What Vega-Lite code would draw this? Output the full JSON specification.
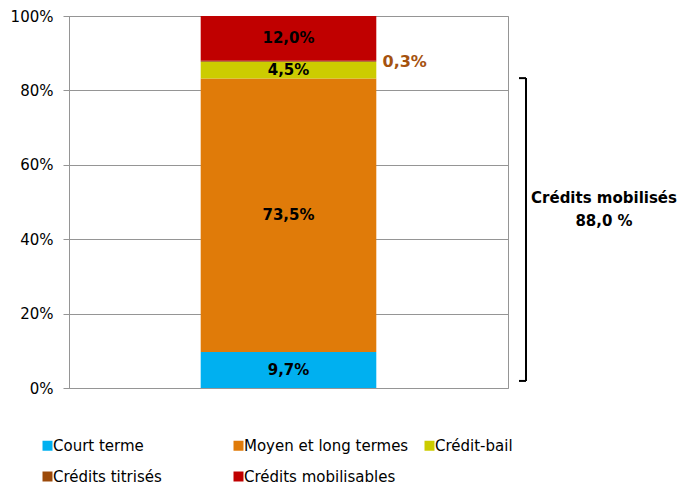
{
  "$schema": "https://vega.github.io/schema/vega-lite/v6.json",
  "padding": {"left": 9, "top": 8, "right": 0, "bottom": 0},
  "config": {
    "font": "DejaVu Sans",
    "view": {"stroke": null},
    "concat": {"spacing": 5}
  },
  "datasets": {
    "credits": [
      {"categorie": "Court terme", "ordre": 1, "part": 9.7, "etiquette": "9,7%"},
      {"categorie": "Moyen et long termes", "ordre": 2, "part": 73.5, "etiquette": "73,5%"},
      {"categorie": "Crédit-bail", "ordre": 3, "part": 4.5, "etiquette": "4,5%"},
      {"categorie": "Crédits titrisés", "ordre": 4, "part": 0.3, "etiquette": "0,3%"},
      {"categorie": "Crédits mobilisables", "ordre": 5, "part": 12.0, "etiquette": "12,0%"}
    ],
    "annotation": [
      {"libelle": "Crédits mobilisés", "total": "88,0 %", "bas": 1.9, "haut": 83.3, "y_libelle": 51.1, "y_total": 44.9}
    ]
  },
  "hconcat": [
    {
      "width": 439,
      "height": 372,
      "view": {"stroke": "#959595", "strokeWidth": 1},
      "data": {"name": "credits"},
      "encoding": {
        "x": {"datum": "Encours", "type": "nominal", "scale": {"paddingInner": 0, "paddingOuter": 0.75}, "axis": null},
        "y": {
          "field": "part", "type": "quantitative", "stack": "zero",
          "scale": {"domain": [0, 100], "nice": false},
          "axis": {
            "values": [0, 20, 40, 60, 80, 100],
            "labelExpr": "datum.value + '%'",
            "title": null,
            "grid": true, "gridColor": "#959595", "gridWidth": 1,
            "domainColor": "#959595", "domainWidth": 1,
            "tickColor": "#959595", "tickSize": 6,
            "labelFontSize": 15, "labelColor": "#000000", "labelPadding": 10
          }
        },
        "order": {"field": "ordre", "type": "quantitative"}
      },
      "layer": [
        {
          "mark": {"type": "bar"},
          "encoding": {
            "color": {
              "field": "categorie", "type": "nominal",
              "scale": {
                "domain": ["Court terme", "Moyen et long termes", "Crédit-bail", "Crédits titrisés", "Crédits mobilisables"],
                "range": ["#00B0F0", "#E07B09", "#CCCC00", "#9C4A0A", "#C00000"]
              },
              "legend": {
                "title": null, "orient": "none", "legendX": -29, "legendY": 422,
                "direction": "horizontal", "columns": 3, "gridAlign": "all",
                "columnPadding": 13, "rowPadding": 15, "padding": 0,
                "symbolType": "square", "symbolSize": 100, "symbolStrokeWidth": 0,
                "labelFontSize": 15, "labelColor": "#000000", "labelOffset": -2, "labelLimit": 300
              }
            }
          }
        },
        {
          "mark": {"type": "text", "fontSize": 15, "fontWeight": "bold", "color": "#000000"},
          "encoding": {
            "y": {"field": "part", "type": "quantitative", "stack": "zero", "bandPosition": 0.5},
            "text": {"field": "etiquette"},
            "opacity": {"condition": {"test": "datum.ordre == 4", "value": 0}, "value": 1}
          }
        },
        {
          "mark": {"type": "text", "fontSize": 16, "fontWeight": "bold", "color": "#A5520F", "align": "left", "dx": 94, "dy": 1},
          "encoding": {
            "y": {"field": "part", "type": "quantitative", "stack": "zero", "bandPosition": 0.5},
            "text": {"field": "etiquette"},
            "opacity": {"condition": {"test": "datum.ordre == 4", "value": 1}, "value": 0}
          }
        }
      ]
    },
    {
      "width": 160,
      "height": 372,
      "data": {"name": "annotation"},
      "layer": [
        {
          "mark": {"type": "rule", "color": "#000000", "strokeWidth": 2},
          "encoding": {
            "x": {"datum": 12, "type": "quantitative", "scale": {"domain": [0, 160], "nice": false}, "axis": null},
            "y": {"field": "bas", "type": "quantitative", "scale": {"domain": [0, 100], "nice": false}, "axis": null},
            "y2": {"field": "haut"}
          }
        },
        {
          "mark": {"type": "rule", "color": "#000000", "strokeWidth": 2},
          "encoding": {
            "x": {"datum": 5, "type": "quantitative"},
            "x2": {"datum": 12},
            "y": {"field": "haut", "type": "quantitative"}
          }
        },
        {
          "mark": {"type": "rule", "color": "#000000", "strokeWidth": 2},
          "encoding": {
            "x": {"datum": 5, "type": "quantitative"},
            "x2": {"datum": 12},
            "y": {"field": "bas", "type": "quantitative"}
          }
        },
        {
          "mark": {"type": "text", "fontSize": 15, "fontWeight": "bold", "color": "#000000"},
          "encoding": {
            "x": {"datum": 90, "type": "quantitative"},
            "y": {"field": "y_libelle", "type": "quantitative"},
            "text": {"field": "libelle"}
          }
        },
        {
          "mark": {"type": "text", "fontSize": 15, "fontWeight": "bold", "color": "#000000"},
          "encoding": {
            "x": {"datum": 90, "type": "quantitative"},
            "y": {"field": "y_total", "type": "quantitative"},
            "text": {"field": "total"}
          }
        }
      ]
    }
  ]
}
